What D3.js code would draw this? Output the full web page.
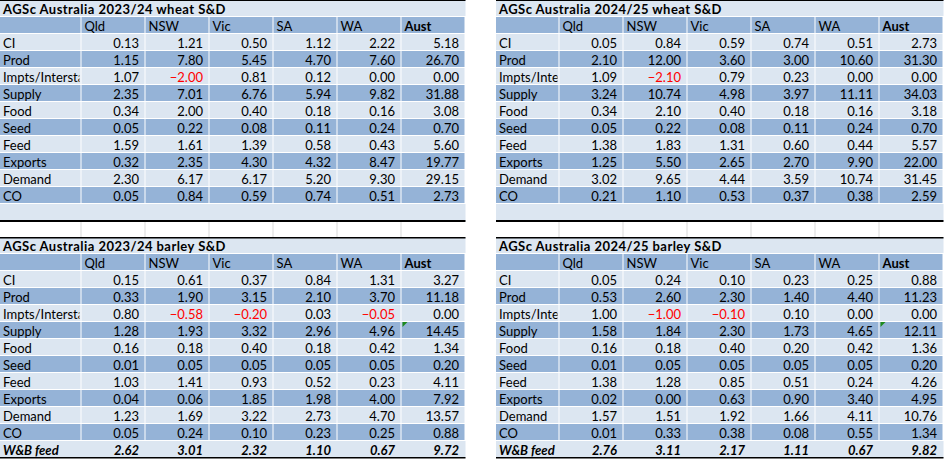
<!DOCTYPE html>
<html>
<head>
<meta charset="utf-8">
<script src="https://cdn.jsdelivr.net/npm/d3@7/dist/d3.min.js"></script>
<style>
  html, body { margin: 0; padding: 0; background: #ffffff; }
  svg { display: block; }
  text { font-family: Lato, "Open Sans", sans-serif; }
</style>
</head>
<body>
<svg id="chart" width="945" height="460"></svg>
<script>
// ---- data ----
const regions = ["Qld", "NSW", "Vic", "SA", "WA", "Aust"];
const rowLabels = ["CI", "Prod", "Impts/Interstate", "Supply", "Food", "Seed", "Feed", "Exports", "Demand", "CO"];
const wbLabel = "W&B feed";

const titles = [
  "AGSc Australia 2023/24 wheat S&D",
  "AGSc Australia 2024/25 wheat S&D",
  "AGSc Australia 2023/24 barley S&D",
  "AGSc Australia 2024/25 barley S&D"
];

const wheat2324 = [
  [0.13, 1.21, 0.50, 1.12, 2.22, 5.18],
  [1.15, 7.80, 5.45, 4.70, 7.60, 26.70],
  [1.07, -2.00, 0.81, 0.12, 0.00, 0.00],
  [2.35, 7.01, 6.76, 5.94, 9.82, 31.88],
  [0.34, 2.00, 0.40, 0.18, 0.16, 3.08],
  [0.05, 0.22, 0.08, 0.11, 0.24, 0.70],
  [1.59, 1.61, 1.39, 0.58, 0.43, 5.60],
  [0.32, 2.35, 4.30, 4.32, 8.47, 19.77],
  [2.30, 6.17, 6.17, 5.20, 9.30, 29.15],
  [0.05, 0.84, 0.59, 0.74, 0.51, 2.73]
];

const wheat2425 = [
  [0.05, 0.84, 0.59, 0.74, 0.51, 2.73],
  [2.10, 12.00, 3.60, 3.00, 10.60, 31.30],
  [1.09, -2.10, 0.79, 0.23, 0.00, 0.00],
  [3.24, 10.74, 4.98, 3.97, 11.11, 34.03],
  [0.34, 2.10, 0.40, 0.18, 0.16, 3.18],
  [0.05, 0.22, 0.08, 0.11, 0.24, 0.70],
  [1.38, 1.83, 1.31, 0.60, 0.44, 5.57],
  [1.25, 5.50, 2.65, 2.70, 9.90, 22.00],
  [3.02, 9.65, 4.44, 3.59, 10.74, 31.45],
  [0.21, 1.10, 0.53, 0.37, 0.38, 2.59]
];

const barley2324 = [
  [0.15, 0.61, 0.37, 0.84, 1.31, 3.27],
  [0.33, 1.90, 3.15, 2.10, 3.70, 11.18],
  [0.80, -0.58, -0.20, 0.03, -0.05, 0.00],
  [1.28, 1.93, 3.32, 2.96, 4.96, 14.45],
  [0.16, 0.18, 0.40, 0.18, 0.42, 1.34],
  [0.01, 0.05, 0.05, 0.05, 0.05, 0.20],
  [1.03, 1.41, 0.93, 0.52, 0.23, 4.11],
  [0.04, 0.06, 1.85, 1.98, 4.00, 7.92],
  [1.23, 1.69, 3.22, 2.73, 4.70, 13.57],
  [0.05, 0.24, 0.10, 0.23, 0.25, 0.88]
];
const barleyWB2324 = [2.62, 3.01, 2.32, 1.10, 0.67, 9.72];

const barley2425 = [
  [0.05, 0.24, 0.10, 0.23, 0.25, 0.88],
  [0.53, 2.60, 2.30, 1.40, 4.40, 11.23],
  [1.00, -1.00, -0.10, 0.10, 0.00, 0.00],
  [1.58, 1.84, 2.30, 1.73, 4.65, 12.11],
  [0.16, 0.18, 0.40, 0.20, 0.42, 1.36],
  [0.01, 0.05, 0.05, 0.05, 0.05, 0.20],
  [1.38, 1.28, 0.85, 0.51, 0.24, 4.26],
  [0.02, 0.00, 0.63, 0.90, 3.40, 4.95],
  [1.57, 1.51, 1.92, 1.66, 4.11, 10.76],
  [0.01, 0.33, 0.38, 0.08, 0.55, 1.34]
];
const barleyWB2425 = [2.76, 3.11, 2.17, 1.11, 0.67, 9.82];

// ---- layout ----
const LIGHT = "#dce6f1", DARK = "#95b3d7", TXT = "#000000", RED = "#ff0000";
const fmt = d3.format(".2f");
const FS = 13;

const tables = [
  { title: titles[0], data: wheat2324, wb: null, x0: 0, x1: 81.5, x2: 465.5, y0: 0 },
  { title: titles[1], data: wheat2425, wb: null, x0: 496, x1: 559.5, x2: 943.5, y0: 0 },
  { title: titles[2], data: barley2324, wb: barleyWB2324, x0: 0, x1: 81.5, x2: 465.5, y0: 237 },
  { title: titles[3], data: barley2425, wb: barleyWB2425, x0: 496, x1: 559.5, x2: 943.5, y0: 237 }
];

const svg = d3.select("#chart");
svg.append("rect").attr("width", 945).attr("height", 460).attr("fill", "#ffffff");

tables.forEach((t, ti) => {
  const g = svg.append("g");
  const x = d3.scaleBand().domain(regions).range([t.x1, t.x2]).padding(0);
  const y = d3.scaleBand().domain(d3.range(13)).range([t.y0, t.y0 + 221]).padding(0);
  const h = y.bandwidth();

  // clip for label column
  const clipId = "clipLab" + ti;
  svg.append("clipPath").attr("id", clipId)
    .append("rect").attr("x", t.x0).attr("y", t.y0).attr("width", t.x1 - t.x0 - 2).attr("height", 221);

  // title row
  g.append("rect").attr("x", t.x0).attr("y", y(0)).attr("width", t.x2 - t.x0).attr("height", h - 1).attr("fill", LIGHT);
  g.append("text").attr("x", t.x0 + 3).attr("y", y(0) + h - 3.2)
    .attr("font-size", FS).attr("font-weight", "bold").attr("letter-spacing", 0.45)
    .attr("fill", TXT).text(t.title);

  // header row
  g.append("rect").attr("x", t.x0).attr("y", y(1)).attr("width", t.x1 - t.x0 - 1).attr("height", h - 1).attr("fill", DARK);
  g.selectAll(".hcell").data(regions).join("rect")
    .attr("x", d => x(d)).attr("y", y(1)).attr("width", x.bandwidth() - 1).attr("height", h - 1).attr("fill", DARK);
  g.selectAll(".htext").data(regions).join("text")
    .attr("x", d => x(d) + 3).attr("y", y(1) + h - 3.5)
    .attr("font-size", FS).attr("fill", TXT)
    .attr("font-weight", d => d === "Aust" ? "bold" : "normal").text(d => d);

  // data rows
  rowLabels.forEach((lab, ri) => {
    const yy = y(ri + 2);
    const fill = ri % 2 === 0 ? LIGHT : DARK;
    g.append("rect").attr("x", t.x0).attr("y", yy).attr("width", t.x1 - t.x0 - 1).attr("height", h - 1).attr("fill", fill);
    g.append("text").attr("x", t.x0 + 3).attr("y", yy + h - 3.5).attr("clip-path", `url(#${clipId})`)
      .attr("font-size", FS).attr("fill", TXT).text(lab);
    const vals = t.data[ri].map((v, i) => ({ v, r: regions[i] }));
    g.selectAll(null).data(vals).join("rect")
      .attr("x", d => x(d.r)).attr("y", yy).attr("width", x.bandwidth() - 1).attr("height", h - 1).attr("fill", fill);
    g.selectAll(null).data(vals).join("text")
      .attr("x", d => x(d.r) + x.bandwidth() - 6.5).attr("y", yy + h - 3.5)
      .attr("text-anchor", "end").attr("font-size", FS)
      .attr("fill", d => d.v < 0 ? RED : TXT).text(d => fmt(d.v));
  });

  // last row
  const yl = y(12);
  g.append("rect").attr("x", t.x0).attr("y", yl).attr("width", t.x2 - t.x0).attr("height", h).attr("fill", LIGHT);
  if (t.wb) {
    g.append("text").attr("x", t.x0 + 3).attr("y", yl + h - 3.5)
      .attr("font-size", FS).attr("font-weight", "bold").attr("font-style", "italic").attr("fill", TXT).text(wbLabel);
    const vals = t.wb.map((v, i) => ({ v, r: regions[i] }));
    g.selectAll(null).data(vals).join("text")
      .attr("x", d => x(d.r) + x.bandwidth() - 6.5).attr("y", yl + h - 3.5)
      .attr("text-anchor", "end").attr("font-size", FS).attr("font-weight", "bold").attr("font-style", "italic")
      .attr("fill", d => d.v < 0 ? RED : TXT).text(d => fmt(d.v));

    // green indicator on Aust Supply cell
    const sx = x("Aust"), sy = y(3 + 2);
    g.append("path")
      .attr("d", `M${sx + 1},${sy} L${sx + 6},${sy} L${sx + 1},${sy + 5} Z`)
      .attr("fill", "#1e8a1e");
  }

  // black rules
  const rule = (yy, w) => g.append("rect").attr("x", t.x0).attr("y", yy).attr("width", t.x2 - t.x0).attr("height", w).attr("fill", "#000");
  if (!t.wb) {
    rule(0, 1);
    rule(220, 2);
  } else {
    rule(t.y0, 1.5);
    rule(t.y0 + 220, 1.5);
  }

  // white spacer row gridlines (between upper and lower tables)
  if (!t.wb) {
    const bounds = [t.x1].concat(regions.slice(0, 5).map(r => x(r) + x.bandwidth()));
    g.selectAll(null).data(bounds).join("rect")
      .attr("x", d => d - 1).attr("y", 222).attr("width", 1).attr("height", 15).attr("fill", "#d9d9d9");
  }
});
</script>
</body>
</html>
